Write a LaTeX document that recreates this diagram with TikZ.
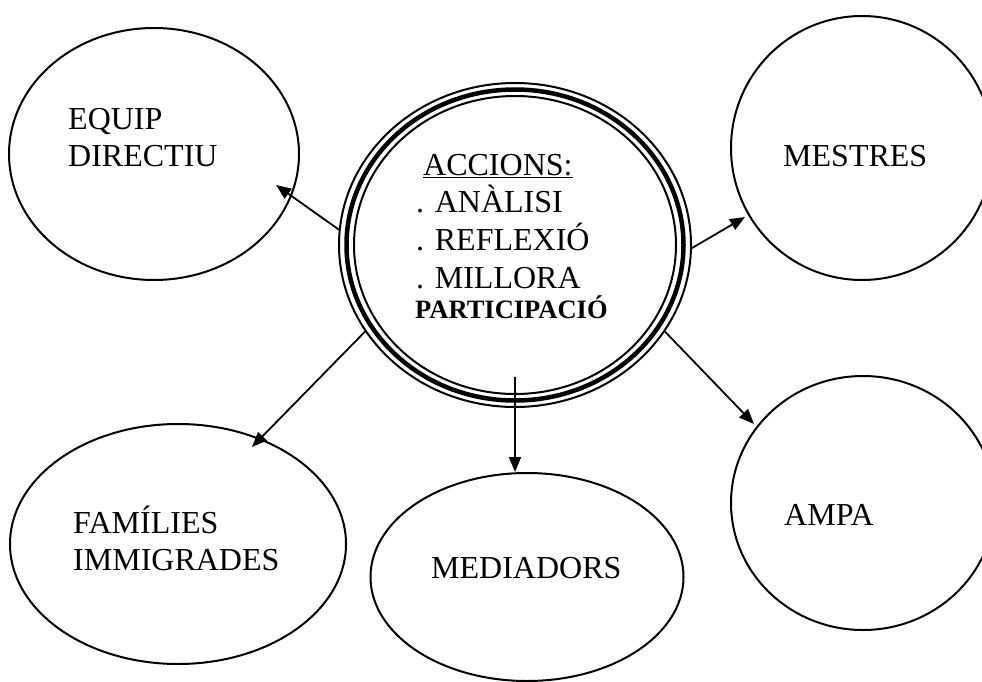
\documentclass[tikz,border=0pt]{standalone}
\usepackage{fontspec}
\setmainfont{Liberation Serif}
\usetikzlibrary{shapes.geometric,arrows.meta}
\begin{document}
\begin{tikzpicture}[x=1pt,y=-1pt,
  bubble/.style={draw, ellipse, line width=2pt, inner sep=0pt},
  lbl/.style={anchor=base west, inner sep=0pt, font=\fontsize{32}{37}\selectfont},
  boldlbl/.style={anchor=base west, inner sep=0pt, font=\fontsize{26.5}{30}\selectfont\bfseries},
  conn/.style={line width=1.8pt, -{Triangle[length=15pt,width=12pt]}}]
\useasboundingbox (0,0) rectangle (982,682);
\fill[white] (0,0) rectangle (982,682);

% outer bubbles
\node[bubble, minimum width=290pt, minimum height=252pt] (equip) at (154,154) {};
\node[bubble, minimum width=262pt, minimum height=264pt] (mestres) at (862,148) {};
\node[bubble, minimum width=264pt, minimum height=254pt] (ampa) at (863,503) {};
\node[bubble, minimum width=336pt, minimum height=240pt] (families) at (178,544) {};
\node[bubble, minimum width=313pt, minimum height=208pt] (mediadors) at (527,577) {};

% central triple circle
\node[bubble, line width=2pt, minimum width=352pt, minimum height=324pt] (accions) at (515,245) {};
\draw[line width=4.5pt] (accions.center) ellipse [x radius=168.5pt, y radius=155.5pt];
\draw[line width=2pt] (accions.center) ellipse [x radius=161pt, y radius=149pt];

% texts
\node[lbl] (t-equip1) at (68,129) {EQUIP};
\node[lbl] (t-equip2) at (68,166) {DIRECTIU};
\node[lbl] (t-mestres) at (783,166) {MESTRES};
\node[lbl] (t-ampa) at (784,525) {AMPA};
\node[lbl] (t-fam1) at (73,533) {FAMÍLIES};
\node[lbl] (t-fam2) at (73,570) {IMMIGRADES};
\node[lbl] (t-med) at (431,578) {MEDIADORS};
\node[lbl] (t-acc) at (423,175) {\underline{ACCIONS:}};
\node[lbl] (t-an) at (416,212) {. ANÀLISI};
\node[lbl] (t-ref) at (416,250) {. REFLEXIÓ};
\node[lbl] (t-mil) at (416,288) {. MILLORA};
\node[boldlbl] (t-part) at (415,318) {PARTICIPACIÓ};

% connector ends
\coordinate (tip-equip) at (276,185);
\coordinate (tip-mestres) at (745,217);
\coordinate (tip-ampa) at (754,424);
\coordinate (tip-fam) at (252,447);
\coordinate (tip-med) at (515,472);
\coordinate (src-med) at (515,377);

% connectors
\draw[conn] (accions.175) -- (tip-equip);
\draw[conn] (accions.-1.6) -- (tip-mestres);
\draw[conn] (accions.-30.4) -- (tip-ampa);
\draw[conn] (accions.210.6) -- (tip-fam);
\draw[conn] (src-med) -- (tip-med);
\end{tikzpicture}
\end{document}
